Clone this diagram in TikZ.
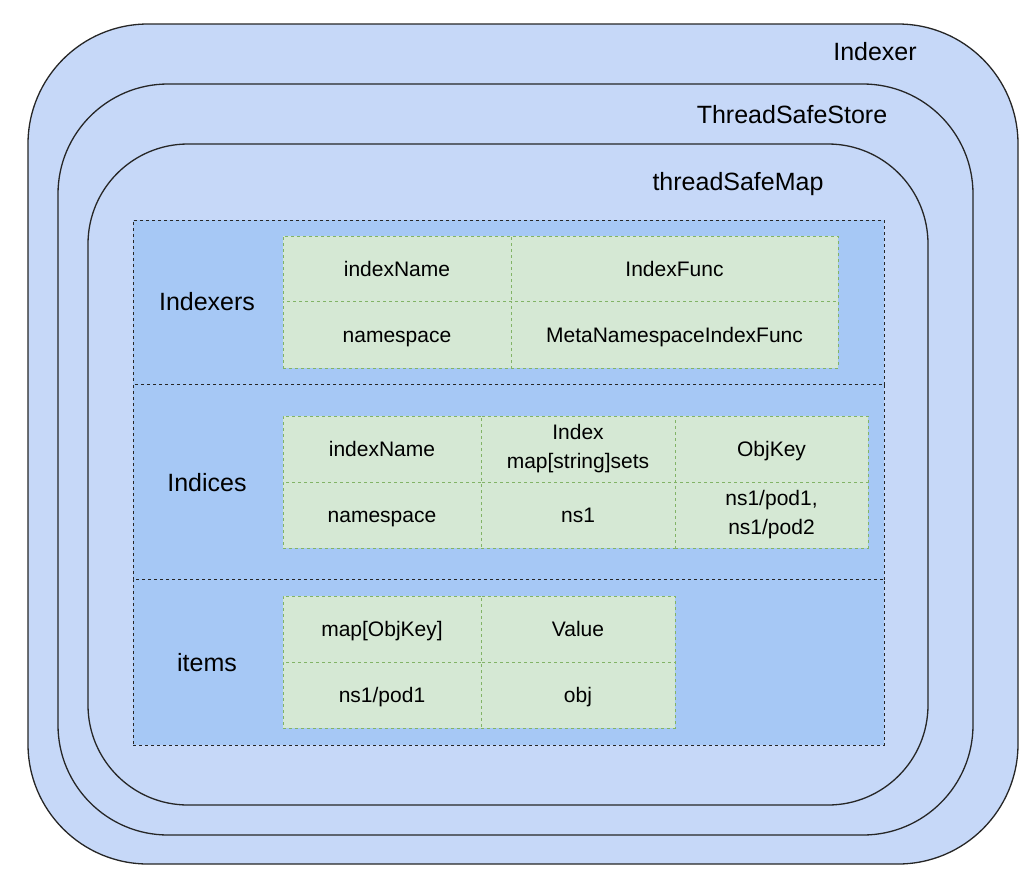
\documentclass[tikz,border=0pt]{standalone}
\usepackage{fontspec}
\setmainfont{Liberation Sans}
\definecolor{shell}{HTML}{C6D8F8}
\definecolor{band}{HTML}{A6C8F5}
\definecolor{cellfill}{HTML}{D5E8D4}
\definecolor{cellline}{HTML}{82B366}
\begin{document}
\begin{tikzpicture}[x=1pt,y=-1pt,
	shellbox/.style={draw=black!85,line width=1.3pt,fill=shell,inner sep=0pt},
	bandbox/.style={draw=black!85,dashed,line width=0.9pt,fill=band,inner sep=0pt},
	twoline/.style={draw=cellline,dashed,line width=0.9pt,fill=cellfill,inner sep=0pt,align=center,font=\fontsize{21}{29}\selectfont},
	cellbox/.style={twoline,text height=15pt,text depth=0pt},
	title/.style={font=\fontsize{25}{30}\selectfont},
	section/.style={font=\fontsize{25}{30}\selectfont}]
	\useasboundingbox (0,0) rectangle (1034,879);

	% nested stores
	\node[shellbox,rounded corners=120pt,minimum width=990pt,minimum height=840pt] (indexer) at (523,444) {};
	\node[shellbox,rounded corners=110pt,minimum width=915pt,minimum height=751pt] (store) at (515.5,459.5) {};
	\node[shellbox,rounded corners=100pt,minimum width=840pt,minimum height=661pt] (safemap) at (508,474.5) {};
	\node[title] (indexerlbl) at (875,52) {Indexer};
	\node[title] (storelbl) at (792,115) {ThreadSafeStore};
	\node[title] (safemaplbl) at (738,184) {threadSafeMap};

	% bands
	\node[bandbox,minimum width=751pt,minimum height=164pt] (indexers) at (508.5,302) {};
	\node[bandbox,minimum width=751pt,minimum height=195pt] (indices) at (508.5,481.5) {};
	\node[bandbox,minimum width=751pt,minimum height=166pt] (items) at (508.5,662) {};
	\node[section] (indexerslbl) at (207,302) {Indexers};
	\node[section] (indiceslbl) at (207,483) {Indices};
	\node[section] (itemslbl) at (207,663) {items};

	% Indexers table
	\node[cellbox,minimum width=228pt,minimum height=65pt] (ixname) at (397,268.5) {indexName};
	\node[cellbox,minimum width=327pt,minimum height=65pt] (ixfunc) at (674.5,268.5) {IndexFunc};
	\node[cellbox,minimum width=228pt,minimum height=67pt] (ixns) at (397,334.5) {namespace};
	\node[cellbox,minimum width=327pt,minimum height=67pt] (ixmeta) at (674.5,334.5) {MetaNamespaceIndexFunc};

	% Indices table
	\node[cellbox,minimum width=198pt,minimum height=66pt] (inname) at (382,449) {indexName};
	\node[twoline,minimum width=194pt,minimum height=66pt] (inindex) at (578,449) {Index\\map[string]sets};
	\node[cellbox,minimum width=193pt,minimum height=66pt] (inkey) at (771.5,449) {ObjKey};
	\node[cellbox,minimum width=198pt,minimum height=66pt] (inns) at (382,515) {namespace};
	\node[cellbox,minimum width=194pt,minimum height=66pt] (inval) at (578,515) {ns1};
	\node[twoline,minimum width=193pt,minimum height=66pt] (inpods) at (771.5,515) {ns1/pod1,\\ns1/pod2};

	% items table
	\node[cellbox,minimum width=198pt,minimum height=66pt] (itkey) at (382,629) {map[ObjKey]};
	\node[cellbox,minimum width=194pt,minimum height=66pt] (itvalue) at (578,629) {Value};
	\node[cellbox,minimum width=198pt,minimum height=66pt] (itpod) at (382,695) {ns1/pod1};
	\node[cellbox,minimum width=194pt,minimum height=66pt] (itobj) at (578,695) {obj};
\end{tikzpicture}
\end{document}
